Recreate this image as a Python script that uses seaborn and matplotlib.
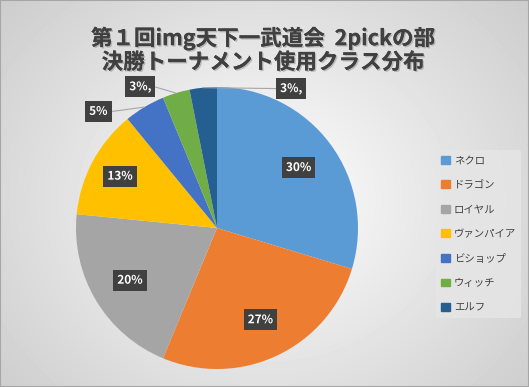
import numpy as np
import matplotlib
matplotlib.use('Agg')
import matplotlib.pyplot as plt
import matplotlib.patheffects as pe
import seaborn as sns

# data
classes = ['ネクロ', 'ドラゴン', 'ロイヤル', 'ヴァンパイア', 'ビショップ', 'ウィッチ', 'エルフ']
counts = [19, 17, 13, 8, 3, 2, 2]
labels = ['30%', '27%', '20%', '13%', '5%', '3%,', '3%,']
colors = ['#5B9BD5', '#ED7D31', '#A5A5A5', '#FFC000', '#4472C4', '#70AD47', '#255E91']
title = '第１回img天下一武道会  2pickの部\n決勝トーナメント使用クラス分布'

sns.set_theme(style='white')
plt.rcParams['font.family'] = ['Noto Sans CJK JP', 'DejaVu Sans']

fig = plt.figure(figsize=(5.29, 3.87), dpi=100)

# radial gradient background
bg = fig.add_axes([0, 0, 1, 1])
yy, xx = np.mgrid[0:387, 0:529]
d = np.sqrt(((xx - 264) / 300.0) ** 2 + ((yy - 200) / 260.0) ** 2)
shade = 1.0 - 0.17 * np.clip(d, 0, 1.2)
bg.imshow(shade, cmap='gray', vmin=0, vmax=1, aspect='auto', extent=[0, 1, 0, 1])
bg.set_axis_off()
bg.add_patch(plt.Rectangle((0, 0), 1, 1, transform=bg.transAxes, fill=False,
                           edgecolor='#A6A6A6', linewidth=1.5))

fig.text(0.497, 0.932, title, ha='center', va='top', fontsize=15.5, fontweight='bold',
         color='#404040', linespacing=1.15,
         path_effects=[pe.withSimplePatchShadow(offset=(1, -1), shadow_rgbFace='#999999', alpha=0.6),
                       pe.Normal()])

R = 141
cx, cy = 217, 228
ax = fig.add_axes([(cx - R) / 529, (387 - cy - R) / 387, 2 * R / 529, 2 * R / 387])
wedges, _ = ax.pie(counts, colors=colors, startangle=90, counterclock=False,
                   radius=1, wedgeprops=dict(linewidth=0))
ax.set_xlim(-1, 1)
ax.set_ylim(-1, 1)
ax.set_aspect('equal')
ax.set_axis_off()

# label placement: (radius factor, angle override in degrees or None)
place = [(0.72, None), (0.72, None), (0.72, None), (0.78, None),
         (1.18, 135.5), (1.14, 118.5), (1.12, 62)]
box = dict(boxstyle='square,pad=0.35', facecolor='#404040', edgecolor='none')
for w, lab, (rf, ang) in zip(wedges, labels, place):
    mid = (w.theta1 + w.theta2) / 2
    a = np.deg2rad(ang if ang is not None else mid)
    x, y = rf * np.cos(a), rf * np.sin(a)
    if rf > 1:
        m = np.deg2rad(mid)
        ex, ey = np.cos(m), np.sin(m)
        ax.plot([ex, x + (0.1 if x < 0 else -0.1)], [ey, y], color='#A6A6A6', lw=0.8, clip_on=False)
    ax.text(x, y, lab, ha='center', va='center', fontsize=8.5, fontweight='bold', color='white',
            bbox=box, path_effects=[pe.Normal()])

handles = [plt.Rectangle((0, 0), 1, 1, color=c) for c in colors]
leg = fig.legend(handles, classes, loc='upper left', bbox_to_anchor=(436 / 529, 1 - 150 / 387),
                 frameon=True, fontsize=7.5, handlelength=0.8, handleheight=0.8,
                 handletextpad=0.4, labelspacing=1.4, borderpad=0.5, borderaxespad=0)
leg.get_frame().set_facecolor('#E6E6E6')
leg.get_frame().set_edgecolor('none')
leg.get_frame().set_alpha(0.8)
for t in leg.get_texts():
    t.set_color('#404040')

fig.savefig('out.png', dpi=100)
